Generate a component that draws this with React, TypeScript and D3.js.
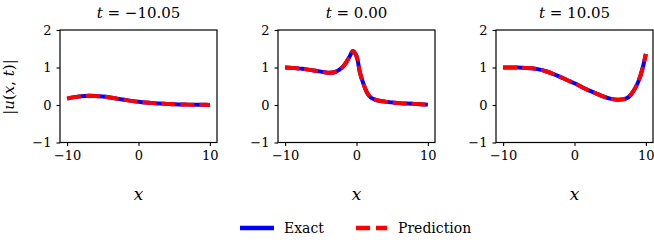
import React, { useRef, useEffect } from "react";
import * as d3 from "d3";

// panel titles
const titles = ["t = −10.05", "t = 0.00", "t = 10.05"];

// |u(x,t)|, one array pair per time slice
const xs1 = [-10, -9, -8, -7, -6, -5, -4, -3, -2, -1, 0, 1, 2, 3, 4, 5, 6, 7, 8, 9, 10];
const u1 = [0.17, 0.21, 0.235, 0.245, 0.24, 0.225, 0.2, 0.17, 0.14, 0.11, 0.085, 0.065, 0.05, 0.04, 0.03, 0.02, 0.015, 0.01, 0.007, 0.005, 0.003];

const xs2 = [-10, -9, -8, -7, -6, -5, -4, -3, -2, -1.5, -1, -0.5, 0, 0.5, 1, 1.5, 2, 2.5, 3, 4, 5, 6, 7, 8, 9, 10];
const u2 = [1.0, 0.99, 0.97, 0.95, 0.92, 0.89, 0.86, 0.88, 1.0, 1.12, 1.28, 1.44, 1.3, 0.85, 0.55, 0.32, 0.2, 0.15, 0.12, 0.09, 0.07, 0.05, 0.04, 0.03, 0.02, 0.01];

const xs3 = [-10, -9, -8, -7, -6, -5, -4, -3, -2, -1, 0, 1, 2, 3, 4, 5, 6, 7, 7.5, 8, 8.5, 9, 9.5, 10];
const u3 = [1.0, 1.0, 1.0, 0.99, 0.98, 0.95, 0.9, 0.83, 0.75, 0.66, 0.58, 0.48, 0.39, 0.31, 0.23, 0.17, 0.14, 0.16, 0.2, 0.3, 0.45, 0.65, 0.95, 1.36];

// prediction overlays the exact solution
const exact = [u1, u2, u3];
const prediction = [u1, u2, u3];
const xsAll = [xs1, xs2, xs3];

const xTicks = [-10, 0, 10];
const yTicks = [-1, 0, 1, 2];

const App = () => {
  const container = useRef(null);

  const width = 654;
  const height = 245;
  const panelW = 157;
  const panelH = 112.5;
  const top = 30;
  const lefts = [60, 278, 496];
  const font = "'DejaVu Serif', 'Liberation Serif', 'Times New Roman', serif";

  useEffect(() => {
    const svg = d3.select(container.current);
    svg.selectAll("*").remove();

    const xScale = d3.scaleLinear().domain([-11, 11]).range([0, panelW]);
    const yScale = d3.scaleLinear().domain([-1, 2]).range([panelH, 0]);

    const line = d3
      .line()
      .x((d) => xScale(d[0]))
      .y((d) => yScale(d[1]))
      .curve(d3.curveCatmullRom);

    titles.forEach((title, i) => {
      const g = svg.append("g").attr("transform", `translate(${lefts[i]}, ${top})`);

      const pts = xsAll[i].map((x, j) => [x, exact[i][j]]);
      const ptsPred = xsAll[i].map((x, j) => [x, prediction[i][j]]);

      g.append("path")
        .attr("d", line(pts))
        .attr("fill", "none")
        .attr("stroke", "#0000ff")
        .attr("stroke-width", 4);

      g.append("path")
        .attr("d", line(ptsPred))
        .attr("fill", "none")
        .attr("stroke", "#ff0000")
        .attr("stroke-width", 4)
        .attr("stroke-dasharray", "14,5");

      // axes
      const fmt = (d) => d3.format("d")(d).replace("-", "−");
      const xAxis = d3.axisBottom(xScale).tickValues(xTicks).tickSizeOuter(0).tickSize(3.5).tickPadding(5).tickFormat(fmt);
      const yAxis = d3.axisLeft(yScale).tickValues(yTicks).tickSizeOuter(0).tickSize(3.5).tickPadding(5).tickFormat(fmt);

      const gx = g.append("g").attr("transform", `translate(0, ${panelH})`).call(xAxis);
      const gy = g.append("g").call(yAxis);
      [gx, gy].forEach((a) => {
        a.select(".domain").remove();
        a.selectAll("line").attr("stroke", "#000").attr("stroke-width", 1.1);
        a.selectAll("text").attr("fill", "#000").attr("font-family", font).attr("font-size", 13);
      });
      gy.selectAll("text").attr("dy", "0.34em");

      g.append("rect")
        .attr("width", panelW)
        .attr("height", panelH)
        .attr("fill", "none")
        .attr("stroke", "#000")
        .attr("stroke-width", 1.2);

      // title
      const tt = g.append("text")
        .attr("x", panelW / 2)
        .attr("y", -12)
        .attr("text-anchor", "middle")
        .attr("font-family", font)
        .attr("font-size", 15);
      tt.append("tspan").attr("font-style", "italic").text("t");
      tt.append("tspan").text(title.slice(1));

      // x label
      g.append("text")
        .attr("x", panelW / 2)
        .attr("y", panelH + 57)
        .attr("text-anchor", "middle")
        .attr("font-family", font)
        .attr("font-size", 17)
        .attr("font-style", "italic")
        .text("x");
    });

    // y label
    const yl = svg.append("text")
      .attr("transform", `translate(14, 87) rotate(-90)`)
      .attr("text-anchor", "middle")
      .attr("font-family", font)
      .attr("font-size", 15);
    yl.append("tspan").text("|");
    yl.append("tspan").attr("font-style", "italic").text("u");
    yl.append("tspan").text("(");
    yl.append("tspan").attr("font-style", "italic").text("x");
    yl.append("tspan").text(", ");
    yl.append("tspan").attr("font-style", "italic").text("t");
    yl.append("tspan").text(")|");

    // legend
    const legend = svg.append("g").attr("transform", `translate(240, 228)`);
    legend.append("line")
      .attr("x1", 0).attr("x2", 34).attr("y1", 0).attr("y2", 0)
      .attr("stroke", "#0000ff").attr("stroke-width", 4.5);
    legend.append("text")
      .attr("x", 44).attr("y", 5)
      .attr("font-family", font).attr("font-size", 14)
      .text("Exact");
    legend.append("line")
      .attr("x1", 116).attr("x2", 147).attr("y1", 0).attr("y2", 0)
      .attr("stroke", "#ff0000").attr("stroke-width", 4.5)
      .attr("stroke-dasharray", "14,6");
    legend.append("text")
      .attr("x", 158).attr("y", 5)
      .attr("font-family", font).attr("font-size", 14)
      .text("Prediction");
  }, []);

  return (
    <svg
      ref={container}
      width={width}
      height={height}
      style={{ position: "absolute", left: 0, top: 0, background: "#fff" }}
    />
  );
};

export default App;
